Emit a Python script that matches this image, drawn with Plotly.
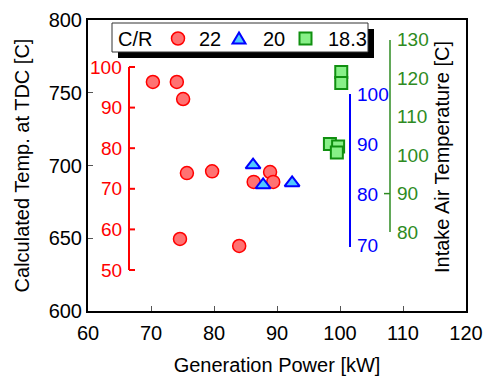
import plotly.graph_objects as go

# Data (main axes: Generation Power [kW] vs Calculated Temp. at TDC [C])
cr22_power = [70.3, 74.1, 75.1, 75.7, 79.7, 74.6, 84.0, 86.3, 88.9, 89.4]
cr22_temp = [757.4, 757.4, 745.7, 694.8, 696.0, 649.5, 644.7, 688.7, 695.5, 688.7]
cr20_power = [86.2, 87.8, 92.4]
cr20_temp = [700.3, 686.6, 688.0]
cr183_power = [100.2, 100.2, 98.4, 99.7, 99.5]
cr183_temp = [764.3, 756.7, 714.8, 713.0, 709.0]

legend_title = "C/R"
series_names = ["22", "20", "18.3"]

# inner scale ticks
red_ticks = [50, 60, 70, 80, 90, 100]
blue_ticks = [70, 80, 90, 100]
green_ticks = [80, 90, 100, 110, 120, 130]

FONT = "Liberation Sans, Arial, sans-serif"
W, H = 487, 376
L, R, T, B = 88, 21, 20, 65
PW, PH = W - L - R, H - T - B

RED, BLUE, GREEN = "#ff0000", "#0000ff", "#2e8b22"
C22 = dict(fill="#ff7272", edge="#ff0000")
C20 = dict(fill="#4fc8ff", edge="#0000ff")
C18 = dict(fill="#88f088", edge="#109010")


def px_x(p):
    return (p - L) / PW


def px_y(p):
    return (H - B - p) / PH


def scale(v, v0, v1, p0, p1):
    # value -> pixel (y) for an inner scale bar
    return p0 + (v - v0) * (p1 - p0) / (v1 - v0)


fig = go.Figure()

fig.add_trace(go.Scatter(
    x=cr22_power, y=cr22_temp, mode="markers", name=series_names[0],
    marker=dict(symbol="circle", size=13, color=C22["fill"],
                line=dict(color=C22["edge"], width=1.5))))
fig.add_trace(go.Scatter(
    x=cr20_power, y=cr20_temp, mode="markers", name=series_names[1],
    marker=dict(symbol="triangle-up", size=13, color=C20["fill"],
                line=dict(color=C20["edge"], width=2))))
fig.add_trace(go.Scatter(
    x=cr183_power, y=cr183_temp, mode="markers", name=series_names[2],
    marker=dict(symbol="square", size=12, color=C18["fill"],
                line=dict(color=C18["edge"], width=2))))

common = dict(showgrid=False, zeroline=False, showline=True, linewidth=2,
              linecolor="black", mirror=True, ticks="inside", ticklen=5,
              tickcolor="#555555", tickfont=dict(size=20, color="black"),
              automargin=False)

fig.update_layout(
    width=W, height=H, autosize=False,
    margin=dict(l=L, r=R, t=T, b=B, pad=0, autoexpand=False),
    paper_bgcolor="white", plot_bgcolor="white",
    font=dict(family=FONT, color="black", size=20),
    xaxis=dict(range=[60, 120], dtick=10, tick0=60, ticklabelstandoff=3,
               title=dict(text="Generation Power [kW]", font=dict(size=20), standoff=17),
               **common),
    yaxis=dict(range=[600, 800], dtick=50, tick0=600, ticklabelstandoff=0,
               title=dict(text="Calculated Temp. at TDC [C]", font=dict(size=20), standoff=14),
               **common),
    showlegend=False,
)

shapes = []
annots = []


def line(x0, y0, x1, y1, color, width):
    shapes.append(dict(type="line", xref="paper", yref="paper",
                       x0=px_x(x0), x1=px_x(x1), y0=px_y(y0), y1=px_y(y1),
                       line=dict(color=color, width=width), layer="above"))


def label(text, x, y, color, anchor, size=19):
    annots.append(dict(text=text, xref="paper", yref="paper", x=px_x(x), y=px_y(y),
                       showarrow=False, xanchor=anchor, yanchor="middle",
                       font=dict(size=size, color=color, family=FONT)))


def rect(x0, y0, x1, y1, fill, edge=None, width=0):
    shapes.append(dict(type="rect", xref="paper", yref="paper",
                       x0=px_x(x0), x1=px_x(x1), y0=px_y(y1), y1=px_y(y0),
                       fillcolor=fill, line=dict(color=edge or fill, width=width),
                       layer="above"))


# red scale bar (left, ticks pointing right)
rx = 129
line(rx, 270, rx, 67, RED, 2)
for v in red_ticks:
    py = scale(v, 50, 100, 270, 67)
    line(rx, py, rx + 6, py, RED, 2)
    label(str(v), rx - 5, py, RED, "right")

# blue scale bar
bx = 350
line(bx, 247, bx, 94, BLUE, 2)
for v in blue_ticks:
    py = scale(v, 70, 100, 245, 94)
    label(str(v), bx + 5, py, BLUE, "left")

# green scale bar
gx = 390
line(gx, 232, gx, 40, GREEN, 1.5)
line(gx - 6, scale(90, 80, 130, 232, 40), gx, scale(90, 80, 130, 232, 40), GREEN, 1.5)
for v in green_ticks:
    py = scale(v, 80, 130, 232, 40)
    label(str(v), gx + 5, py, GREEN, "left")

# legend box with drop shadow
rect(118, 29, 374, 58, "black")
rect(112, 23, 368, 52, "white", "#333333", 1)
ly = 38.5
label(legend_title, 116, ly, "black", "left", 20)
# circle glyph
shapes.append(dict(type="circle", xref="paper", yref="paper",
                   x0=px_x(171.5), x1=px_x(184.5), y0=px_y(ly + 6.5), y1=px_y(ly - 6.5),
                   fillcolor=C22["fill"], line=dict(color=C22["edge"], width=1.5),
                   layer="above"))
label(series_names[0], 197, ly, "black", "left", 20)
# triangle glyph
tx = 239
shapes.append(dict(type="path", xref="paper", yref="paper",
                   path="M {:.5f},{:.5f} L {:.5f},{:.5f} L {:.5f},{:.5f} Z".format(
                       px_x(tx), px_y(ly - 6), px_x(tx - 6.5), px_y(ly + 5),
                       px_x(tx + 6.5), px_y(ly + 5)),
                   fillcolor=C20["fill"], line=dict(color=C20["edge"], width=2),
                   layer="above"))
label(series_names[1], 261, ly, "black", "left", 20)
# square glyph
rect(299.5, ly - 6, 311.5, ly + 6, C18["fill"], C18["edge"], 2)
label(series_names[2], 326, ly, "black", "left", 20)

annots.append(dict(text="Intake Air Temperature [C]", xref="paper", yref="paper",
                   x=px_x(442), y=px_y(157), textangle=-90, showarrow=False,
                   font=dict(size=20, color="black"), xanchor="center", yanchor="middle"))

fig.update_layout(shapes=shapes, annotations=annots)

fig.write_html("out.html")
